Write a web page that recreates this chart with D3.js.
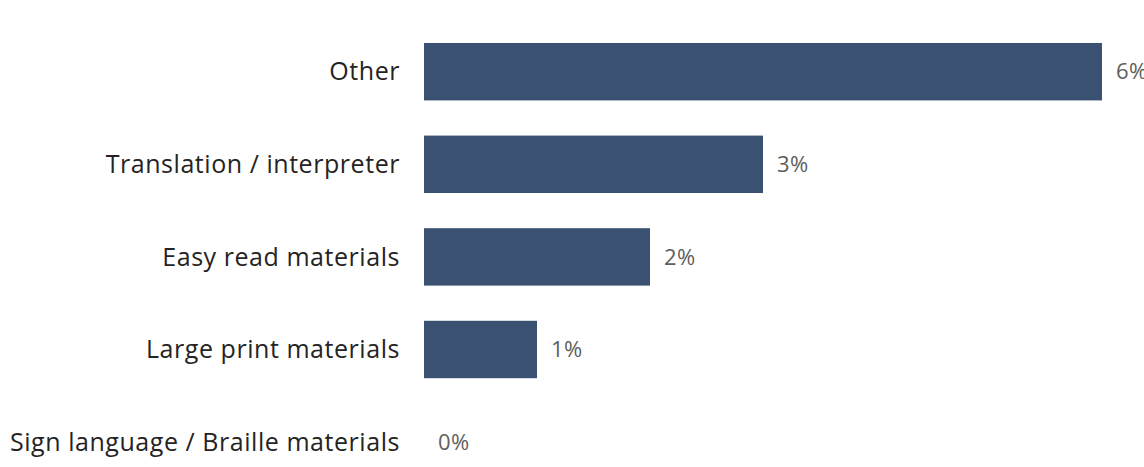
<!DOCTYPE html>
<html>
<head>
<meta charset="utf-8">
<script src="https://cdn.jsdelivr.net/npm/d3@7"></script>
<style>
  body { margin: 0; background: #fff; }
  text { font-family: "Open Sans", "Noto Sans", sans-serif; }
</style>
</head>
<body>
<div id="chart"></div>
<script>
const categories = ["Other", "Translation / interpreter", "Easy read materials", "Large print materials", "Sign language / Braille materials"];
const values = [6, 3, 2, 1, 0];

const width = 1144, height = 467;

const svg = d3.select("#chart").append("svg")
    .attr("width", width)
    .attr("height", height);

const x = d3.scaleLinear().domain([0, 6]).range([424, 1102]);
const y = d3.scaleBand().domain(categories).range([25.4, 488.4])
    .paddingInner(0.38).paddingOuter(0.19);

// bars
svg.selectAll("rect.bar")
    .data(categories)
    .enter().append("rect")
    .attr("class", "bar")
    .attr("x", x(0))
    .attr("y", d => y(d))
    .attr("width", (d, i) => x(values[i]) - x(0))
    .attr("height", y.bandwidth())
    .style("fill", "#3a5172");

// category labels
svg.selectAll("text.cat")
    .data(categories)
    .enter().append("text")
    .attr("class", "cat")
    .attr("x", 400)
    .attr("y", d => y(d) + y.bandwidth() / 2)
    .attr("dy", "0.35em")
    .attr("text-anchor", "end")
    .style("font-size", "25px")
    .style("letter-spacing", "0.55px")
    .style("fill", "#252423")
    .text(d => d);

// value labels
svg.selectAll("text.val")
    .data(categories)
    .enter().append("text")
    .attr("class", "val")
    .attr("x", (d, i) => x(values[i]) + 14)
    .attr("y", d => y(d) + y.bandwidth() / 2)
    .attr("dy", "0.35em")
    .style("font-size", "22px")
    .style("letter-spacing", "0.5px")
    .style("fill", "#605e5c")
    .text((d, i) => values[i] + "%");
</script>
</body>
</html>
